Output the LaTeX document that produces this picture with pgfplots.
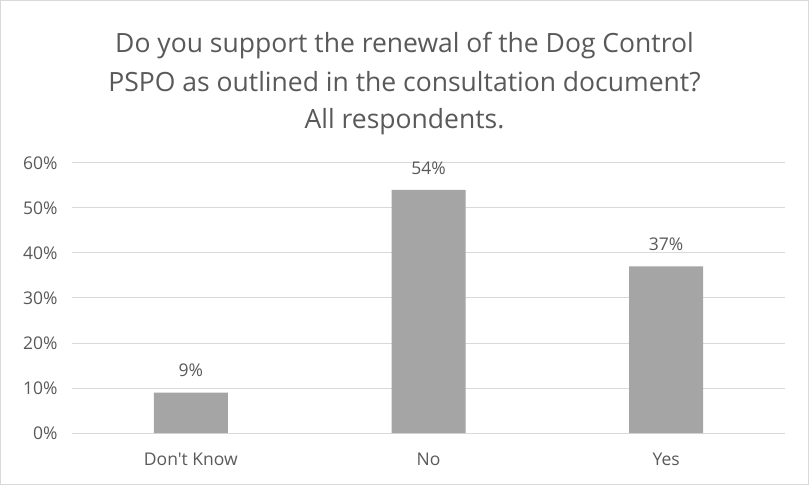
\documentclass[border=0pt]{standalone}
\usepackage{pgfplots}
\pgfplotsset{compat=1.18}
\usepackage{fontspec}
\setmainfont{Open Sans}[Ligatures=TeXOff]
\definecolor{barc}{HTML}{A5A5A5}
\definecolor{gridc}{HTML}{D9D9D9}
\definecolor{txt}{HTML}{595959}
\begin{document}
\begin{tikzpicture}[x=1pt,y=1pt]
\useasboundingbox (0,0) rectangle (809,485);
\draw[gridc, line width=1pt] (0.5,0.5) rectangle (808.5,484.5);
\node[txt, font=\fontsize{26.5}{30}\selectfont, anchor=base] at (404.5,432) {Do you support the renewal of the Dog Control};
\node[txt, font=\fontsize{26.5}{30}\selectfont, anchor=base] at (404.5,393) {PSPO as outlined in the consultation document?};
\node[txt, font=\fontsize{26.5}{30}\selectfont, anchor=base] at (404.5,356) {All respondents.};
\begin{axis}[
  at={(72pt,52pt)}, anchor=south west,
  scale only axis, width=713pt, height=270pt,
  ybar, bar width=74pt,
  xmin=-0.5, xmax=2.5, ymin=0, ymax=60,
  xtick={0,1,2}, xticklabels={Don't Know,No,Yes},
  ytick={0,10,...,60},
  yticklabel={\pgfmathprintnumber{\tick}\%},
  /pgf/number format/assume math mode=true,
  ymajorgrids, grid style={gridc, line width=1pt},
  axis line style={draw=none},
  axis x line*=bottom,
  x axis line style={gridc, line width=1pt},
  major tick length=0pt,
  tick label style={txt, font=\fontsize{17.5}{20}\selectfont},
  yticklabel style={xshift=-11pt},
  xticklabel style={yshift=-16pt},
  nodes near coords={\pgfmathprintnumber{\pgfplotspointmeta}\%},
  nodes near coords style={txt, font=\fontsize{17.5}{20}\selectfont, yshift=12pt},
  clip=false,
]
\addplot[fill=barc, draw=none] coordinates {(0,9) (1,54) (2,37)};
\end{axis}
\end{tikzpicture}
\end{document}
